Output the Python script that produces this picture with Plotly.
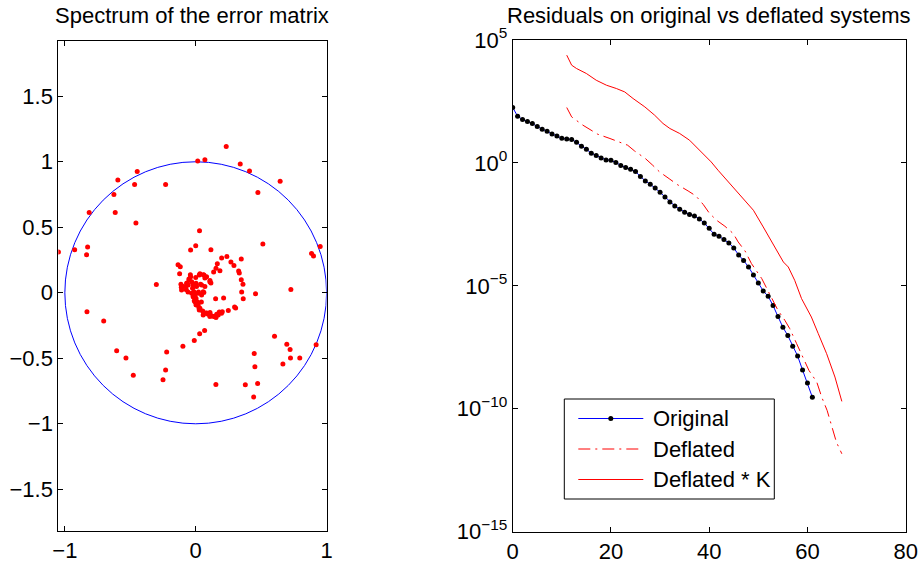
import plotly.graph_objects as go

# ---------------- data: eigenvalues of the error matrix (real, imag) ----------------
eig_re = [-1.049, -0.925, -0.826, -0.834, -0.814, -0.625, -0.595, -0.615, -0.467, -0.447,
          -0.457, -0.230, 0.015, 0.070, 0.233, 0.340, 0.411, 0.475, 0.645, 0.029,
          -0.039, 0.000, 0.116, 0.513, 0.885, 0.900, 0.951,
          -0.135, -0.118, -0.123, -0.301, -0.831, -0.703, -0.604, -0.533, -0.477, -0.222,
          -0.230, -0.250, -0.098, -0.011, 0.030, 0.068, 0.154, 0.152, 0.213, 0.457,
          0.727, 0.602, 0.696, 0.721, 0.724, 0.795, 0.666, 0.920, 0.447, 0.452,
          0.473, 0.379, 0.443,
          0.198, 0.238, 0.269, 0.292, 0.348, 0.328, 0.333, 0.348, 0.361, 0.351,
          0.363, 0.297, 0.305, 0.249, 0.165, 0.155, 0.137, 0.185, 0.109, 0.116,
          0.070, 0.032, 0.058, 0.000, -0.041, -0.052, -0.067, -0.075, -0.072, -0.113,
          -0.110, -0.059, -0.031, -0.019, -0.011, 0.002, 0.025, 0.043, 0.058, 0.084,
          0.109, 0.137, 0.155, 0.180, 0.203, 0.021, 0.006, 0.037, 0.062,
          -0.031, -0.019, -0.024, -0.014, -0.006, 0.002, 0.012, 0.019, 0.032, 0.053,
          0.070, 0.096, 0.121, 0.147, 0.172, 0.197, 0.019, 0.045, 0.057, 0.045,
          0.070, 0.108, 0.083, 0.063, 0.027, 0.002, -0.057, -0.095, -0.108, -0.050,
          -0.069, -0.039, 0.007, 0.027, -0.006, 0.057, 0.108, 0.160, -0.019, 0.083]
eig_im = [0.311, 0.328, 0.349, 0.290, 0.613, 0.750, 0.860, 0.613, 0.827, 0.926,
          0.532, 0.827, 1.006, 1.016, 1.117, 0.983, 0.929, 0.766, 0.852, 0.473,
          0.326, 0.359, 0.328, 0.372, 0.300, 0.280, 0.353,
          0.213, 0.198, 0.145, 0.063, -0.145, -0.216, -0.443, -0.498, -0.630, -0.452,
          -0.589, -0.663, -0.409, -0.364, -0.313, -0.288, -0.700, -0.046, -0.040, -0.008,
          0.025, -0.331, -0.392, -0.433, -0.498, -0.498, -0.544, -0.397, -0.463, -0.565,
          -0.692, -0.702, -0.796,
          0.265, 0.277, 0.234, 0.208, 0.257, 0.166, 0.150, 0.099, 0.066, 0.005,
          -0.046, -0.109, -0.117, -0.135, 0.221, 0.188, 0.158, 0.168, 0.094, 0.074,
          0.112, 0.145, 0.137, 0.117, 0.137, 0.105, 0.074, 0.048, 0.023, 0.066,
          0.043, 0.005, -0.003, -0.028, -0.061, -0.091, -0.117, -0.071, -0.147, -0.155,
          -0.150, -0.181, -0.188, -0.147, -0.145, 0.005, 0.048, 0.066, 0.002,
          0.085, 0.060, 0.034, 0.008, -0.017, -0.042, -0.068, -0.093, -0.118, -0.139,
          -0.157, -0.164, -0.175, -0.182, -0.169, -0.157, -0.004, -0.017, 0.008, 0.060,
          0.047, 0.085, 0.123, 0.136, 0.136, 0.073, 0.060, 0.047, 0.021, 0.098,
          0.073, 0.123, -0.093, -0.131, -0.068, -0.169, -0.182, -0.164, -0.030, -0.157]

# ---------------- data: residual histories (log10 of residual) ----------------
orig_iter = list(range(0, 62))
orig_log = [2.253, 1.900, 1.765, 1.684, 1.603, 1.481, 1.371, 1.289, 1.180, 1.098,
            1.005, 0.976, 0.952, 0.842, 0.679, 0.557, 0.395, 0.301, 0.203, 0.122,
            0.110, 0.016, -0.106, -0.187, -0.256, -0.350, -0.553, -0.732, -0.866, -1.017,
            -1.192, -1.383, -1.586, -1.749, -1.883, -2.005, -2.099, -2.156, -2.278, -2.441,
            -2.657, -2.901, -2.982, -3.116, -3.255, -3.458, -3.743, -3.970, -4.231, -4.556,
            -4.882, -5.207, -5.423, -5.801, -6.249, -6.684, -7.022, -7.457, -7.852, -8.421,
            -8.950, -9.532]

defl_iter = [11.0, 12.0, 14.3, 17.3, 19.8, 23.4, 24.8, 27.0, 28.5, 29.9, 32.0, 33.5,
             35.7, 37.3, 38.8, 40.0, 41.5, 43.2, 44.9, 45.9, 47.3, 48.6, 50.7, 52.7,
             54.0, 55.4, 56.4, 57.8, 59.1, 60.3, 61.9, 62.9, 64.0, 65.9, 67.0]
defl_log = [2.253, 1.872, 1.534, 1.168, 0.993, 0.720, 0.488, 0.179, -0.094, -0.366,
            -0.663, -0.879, -1.139, -1.343, -1.693, -2.035, -2.332, -2.576, -2.873, -3.215,
            -3.582, -4.094, -4.705, -5.454, -5.995, -6.402, -6.740, -7.351, -7.896, -8.437,
            -8.913, -9.524, -10.065, -11.36, -11.83]

deflk_iter = [11.0, 12.0, 13.0, 15.0, 17.0, 19.1, 21.1, 22.8, 24.5, 26.9, 28.9, 30.6,
              32.0, 34.0, 36.0, 38.1, 40.4, 41.8, 44.5, 47.3, 49.0, 51.0, 53.0, 55.1,
              56.1, 57.4, 58.8, 60.8, 62.2, 63.9, 65.6, 67.0]
deflk_log = [4.383, 3.976, 3.840, 3.637, 3.364, 3.160, 3.027, 2.889, 2.621, 2.278,
             1.941, 1.604, 1.400, 1.197, 0.924, 0.517, 0.041, -0.297, -0.900, -1.518,
             -1.925, -2.605, -3.281, -4.030, -4.233, -4.774, -5.519, -6.268, -6.944, -7.758,
             -8.710, -9.700]

left_xticks = [-1, 0, 1]
left_xtext = ["\u22121", "0", "1"]
left_yticks = [-1.5, -1, -0.5, 0, 0.5, 1, 1.5]
left_ytext = ["\u22121.5", "\u22121", "\u22120.5", "0", "0.5", "1", "1.5"]
right_xticks = [0, 20, 40, 60, 80]
right_yexp = [5, 0, -5, -10, -15]

titles = ["Spectrum of the error matrix", "Residuals on original vs deflated systems"]
names = ["Original", "Deflated", "Deflated * K"]

# ---------------- figure ----------------
W, H = 923, 566
FONT = "Liberation Sans, Arial, Helvetica, sans-serif"
RED = "#ff0000"
BLUE = "#0000ff"
DASHDOT = "12px,5px,2px,5px"


def fx(p):
    return p / W


def fy(p):
    return 1 - p / H


fig = go.Figure()

fig.add_trace(go.Scatter(x=eig_re, y=eig_im, mode="markers",
                         marker=dict(color=RED, size=5, line=dict(width=0)),
                         xaxis="x", yaxis="y", showlegend=False))

fig.add_trace(go.Scatter(x=orig_iter, y=[10 ** v for v in orig_log], mode="lines+markers",
                         line=dict(color=BLUE, width=1),
                         marker=dict(color="black", size=5),
                         name=names[0], xaxis="x2", yaxis="y2", showlegend=False))
fig.add_trace(go.Scatter(x=defl_iter, y=[10 ** v for v in defl_log], mode="lines",
                         line=dict(color=RED, width=1, dash=DASHDOT),
                         name=names[1], xaxis="x2", yaxis="y2", showlegend=False))
fig.add_trace(go.Scatter(x=deflk_iter, y=[10 ** v for v in deflk_log], mode="lines",
                         line=dict(color=RED, width=1),
                         name=names[2], xaxis="x2", yaxis="y2", showlegend=False))

# unit circle in data coordinates
fig.add_shape(type="circle", xref="x", yref="y", x0=-1, y0=-1, x1=1, y1=1,
              line=dict(color=BLUE, width=1), layer="below")

axis_common = dict(showline=True, linecolor="black", linewidth=1, mirror="ticks",
                   ticks="inside", ticklen=5, tickwidth=1, tickcolor="black",
                   showgrid=False, zeroline=False, automargin=False,
                   tickfont=dict(family=FONT, size=22, color="black"))

lx0, lx1 = 58.3, 326.6
ly0, ly1 = 40.7, 530.7
rx0, rx1 = 512.7, 905.7
ry0, ry1 = 40.0, 531.7

fig.update_layout(
    width=W, height=H,
    margin=dict(l=0, r=0, t=0, b=0, autoexpand=False),
    paper_bgcolor="white", plot_bgcolor="white",
    font=dict(family=FONT, size=22, color="black"),
    xaxis=dict(domain=[fx(lx0), fx(lx1)], range=[-1.05, 1.0],
               tickvals=left_xticks, ticktext=left_xtext, anchor="y", **axis_common),
    yaxis=dict(domain=[fy(ly1), fy(ly0)], range=[-1.816, 1.924],
               tickvals=left_yticks, ticktext=left_ytext, anchor="x", **axis_common),
    xaxis2=dict(domain=[fx(rx0), fx(rx1)], range=[0, 80],
                tickvals=right_xticks, ticktext=[str(v) for v in right_xticks],
                anchor="y2", **axis_common),
    yaxis2=dict(domain=[fy(ry1), fy(ry0)], type="log", range=[-15, 5],
                tickvals=[10.0 ** e for e in right_yexp],
                ticktext=["10<sup>%s</sup>" % (str(e).replace("-", "\u2212")) for e in right_yexp],
                anchor="x2", **axis_common),
    showlegend=False,
)

# titles
fig.add_annotation(text=titles[0], xref="paper", yref="paper",
                   x=fx((lx0 + lx1) / 2), y=fy(16), xanchor="center", yanchor="middle",
                   showarrow=False, font=dict(family=FONT, size=22, color="black"))
fig.add_annotation(text=titles[1], xref="paper", yref="paper",
                   x=fx((rx0 + rx1) / 2), y=fy(16), xanchor="center", yanchor="middle",
                   showarrow=False, font=dict(family=FONT, size=22, color="black"))

# legend (drawn in paper pixels, matching the reference legend box)
fig.add_shape(type="rect", xref="paper", yref="paper",
              x0=fx(564.3), x1=fx(774.3), y0=fy(499.0), y1=fy(399.0),
              line=dict(color="black", width=1), fillcolor="white", layer="above")
rows = [418.5, 449.0, 479.5]
styles = [dict(color=BLUE, width=1), dict(color=RED, width=1, dash=DASHDOT),
          dict(color=RED, width=1)]
for name, ry, st in zip(names, rows, styles):
    fig.add_shape(type="line", xref="paper", yref="paper",
                  x0=fx(578.3), x1=fx(643.3), y0=fy(ry), y1=fy(ry),
                  line=st, layer="above")
    fig.add_annotation(text=name, xref="paper", yref="paper", x=fx(651.0), y=fy(ry),
                       xanchor="left", yanchor="middle", showarrow=False,
                       font=dict(family=FONT, size=22, color="black"))
# marker dot in the "Original" legend sample
fig.add_shape(type="circle", xref="paper", yref="paper",
              x0=fx(610.8 - 2.5), x1=fx(610.8 + 2.5),
              y0=fy(rows[0] + 2.5), y1=fy(rows[0] - 2.5),
              line=dict(color="black", width=0), fillcolor="black", layer="above")

# remove the default 8px page margin so the figure sits at the window's corner
fig.write_html("out.html",
               config={"displayModeBar": False},
               post_script="document.body.style.margin='0px';"
                           "document.body.style.overflow='hidden';")
